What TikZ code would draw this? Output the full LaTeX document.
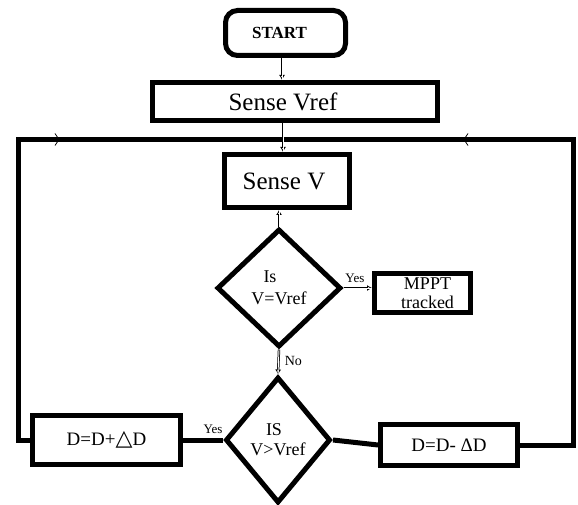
\documentclass[tikz,border=0pt]{standalone}
\usepackage{fontspec}
\setmainfont{Liberation Serif}
\newfontfamily\symfont{DejaVu Sans}
\usetikzlibrary{shapes.geometric,arrows.meta}
\begin{document}
\begin{tikzpicture}[x=1pt,y=1pt,
  thickbox/.style={draw=black,line width=5pt,rectangle,inner sep=0pt,align=center},
  dia/.style={draw=black,line width=5pt,diamond,inner sep=0pt,align=center,font=\fontsize{17}{19}\selectfont},
  conn/.style={draw=black,line width=2.4pt,postaction={draw=white,line width=0.9pt,-}},
  tip/.style={-{Latex[open,length=5pt,width=6pt,line width=0.8pt]}},
  thickline/.style={draw=black,line width=5pt},
  lbl/.style={inner sep=0pt,font=\fontsize{13}{14}\selectfont},
  chev/.style={draw=black,line width=0.8pt}]
\useasboundingbox (0,0) rectangle (578,-505);
\fill[white] (0,0) rectangle (578,-505);
% nodes
\node[thickbox,rounded corners=12pt,minimum width=120pt,minimum height=45pt,font=\bfseries\fontsize{17}{19}\selectfont] (start) at (285.5,-33) {START\hspace*{12pt}};
\node[thickbox,minimum width=285pt,minimum height=38pt,font=\fontsize{25}{27}\selectfont] (svref) at (295,-101.5) {Sense Vref\hspace*{24pt}};
\node[thickbox,minimum width=125pt,minimum height=53pt,font=\fontsize{25}{27}\selectfont] (sv) at (287,-181) {Sense V\hspace*{6pt}};
\node[dia,minimum width=124pt,minimum height=118pt,font=\fontsize{18}{20}\selectfont] (d1) at (279,-288) {Is\hspace*{18pt}\\[2pt]V=Vref};
\node[thickbox,minimum width=96pt,minimum height=39pt,font=\fontsize{18}{19}\selectfont] (mppt) at (422.5,-293) {\hspace*{10pt}MPPT\\\hspace*{10pt}tracked};
\node[dia,minimum width=105pt,minimum height=126pt,font=\fontsize{18}{20}\selectfont] (d2) at (278,-440) {IS\hspace*{8pt}\\V>Vref};
\node[thickbox,minimum width=148pt,minimum height=49pt,font=\fontsize{19}{21}\selectfont] (dplus) at (106.5,-440) {D=D+{\symfont\fontsize{22}{22}\selectfont △}D};
\node[thickbox,minimum width=137pt,minimum height=41pt,font=\fontsize{19}{21}\selectfont] (dminus) at (449,-445) {D=D- ΔD};
% loop coordinates
\coordinate (tl) at (18,-139.5);
\coordinate (tr) at (573,-139.5);
\coordinate (tc) at (283,-139.5);
\coordinate (m1) at (58,-139.5);
\coordinate (m2) at (465,-139.5);
% connectors
\draw[thickline,line join=miter] (dplus.west) -- (dplus.west -| tl) -- (tl) -- (tr) -- (tr |- dminus.east) -- (dminus.east);
\draw[conn,tip] (start.south -| 282,0) -- (svref.north -| 282,0);
\draw[conn,tip] (svref.south -| tc) -- (sv.north -| tc);
\draw[conn,tip] (d1.north) -- (d1.north |- sv.south);
\draw[conn,tip] (d1.east) -- (mppt.west |- d1.east) node[lbl,pos=0.4,above=4pt] {Yes};
\draw[conn,tip] (d1.south) -- (d2.north) node[lbl,pos=0.45,right=5pt,font=\fontsize{14}{15}\selectfont] {No};
\draw[thickline] (d2.west) -- (d2.west -| dplus.east) node[lbl,pos=0.25,above=4pt] {Yes};
\draw[thickline] (d2.east) -- (dminus.west);
% direction marks on the loop
\draw[chev] (m1) ++(-3,6) -- ++(4,-6) -- ++(-4,-6);
\draw[chev] (m2) ++(3,6) -- ++(-4,-6) -- ++(4,-6);
\end{tikzpicture}
\end{document}
